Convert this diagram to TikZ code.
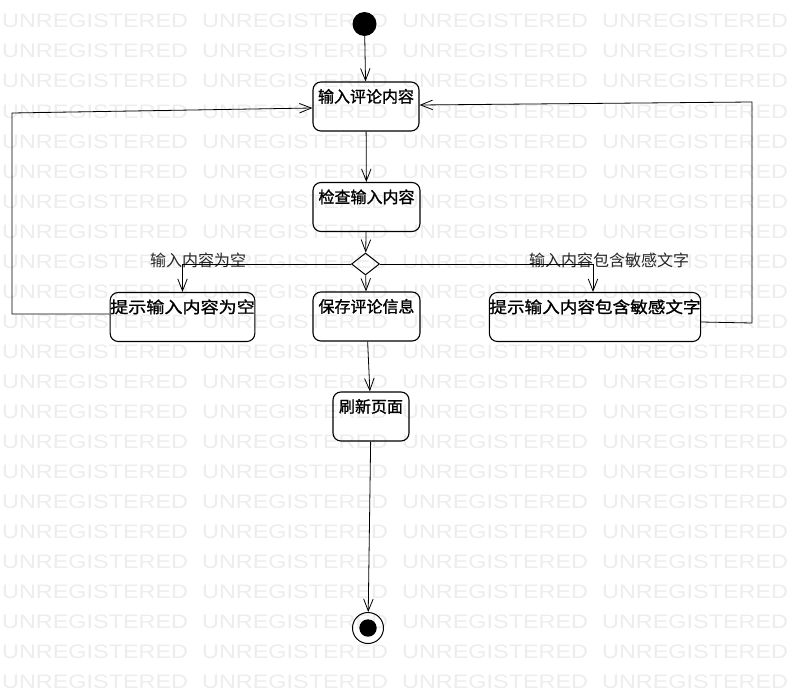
\documentclass[tikz,border=0pt]{standalone}
\usepackage{fontspec}
\usepackage{graphicx}
\usetikzlibrary{arrows.meta,shapes.geometric}
\newfontfamily\cjk{Noto Sans CJK SC}
\newfontfamily\cjkb[FakeBold=1.2]{Noto Sans CJK SC}
\newfontfamily\wmfont{Liberation Sans}
\definecolor{wmgray}{gray}{0.93}
\begin{document}
\begin{tikzpicture}[x=1pt,y=-1pt,
  box/.style={draw, line width=1.1pt, rounded corners=8pt, minimum height=49pt,
    inner xsep=0pt, inner ysep=4pt, text height=16.5pt, text depth=24.5pt,
    font=\cjkb\fontsize{16}{16}\selectfont},
  lbl/.style={inner sep=0pt, text=black!85, font=\cjk\fontsize{16}{16}\selectfont},
  flow/.style={draw, line width=0.8pt, -{Straight Barb[length=12pt,width=9.5pt,line width=0.8pt]}},
  wm/.style={inner sep=0pt, text=wmgray, font=\wmfont\fontsize{19.5}{19.5}\selectfont}
]
\useasboundingbox (0,0) rectangle (803,693);
\fill[white] (0,0) rectangle (803,693);
% watermark
\foreach \k in {0,...,22}{
  \foreach \j in {0,...,3}{
    \node[wm, anchor=base west] (wm-\j-\k) at ({2+200*\j},{28+30*\k}) {\scalebox{1.2}[1]{UNREGISTERED}};
  }
}
% nodes
\node[circle, fill=black, minimum size=24pt, inner sep=0pt] (s) at (364.5,24) {};
\node[box, minimum width=106pt] (in) at (366,106.5) {输入评论内容};
\node[box, minimum width=107pt] (chk) at (366.5,207) {检查输入内容};
\node[diamond, draw, line width=1pt, minimum width=28pt, minimum height=22pt, inner sep=0pt] (d) at (365.5,264) {};
\node[box, minimum width=107pt] (save) at (366.5,316.5) {保存评论信息};
\node[box, minimum width=141pt] (l) at (182.5,317) {\scalebox{1.13}[1]{提示输入内容为空}};
\node[box, minimum width=204pt] (r) at (595,317) {\scalebox{1.1}[1]{提示输入内容包含敏感文字}};
\node[box, minimum width=76pt] (ref) at (371,416.5) {刷新页面};
\node[circle, draw, line width=1pt, minimum size=31pt, inner sep=0pt] (e) at (368,628) {};
\node[circle, fill=black, minimum size=17.4pt, inner sep=0pt] (ei) at (e.center) {};
% labels
\node[lbl] (l1) at (198,260.5) {输入内容为空};
\node[lbl] (l2) at (609,260.5) {输入内容包含敏感文字};
% coordinates for loops
\coordinate (lc1) at (12,314);
\coordinate (lc2) at (12,113);
\coordinate (rc1) at (752,323);
\coordinate (rc2) at (752,102);
% connectors
\path[flow] (s) -- (in);
\path[flow] (in) -- (chk);
\path[flow] (chk) -- (d);
\path[flow] (d) -- (save);
\path[flow] (d.west) -| (l.north);
\path[flow] (d.east) -| ([xshift=-2pt]r.north);
\path[flow] (save) -- (ref);
\path[flow] (ref) -- (e);
\path[flow] ([yshift=3pt]l.west) -- (lc1) -- (lc2) -- ([yshift=-1.5pt]in.west);
\path[flow] ([yshift=-5pt]r.east) -- (rc1) -- (rc2) -- ([yshift=1.5pt]in.east);
\end{tikzpicture}
\end{document}
